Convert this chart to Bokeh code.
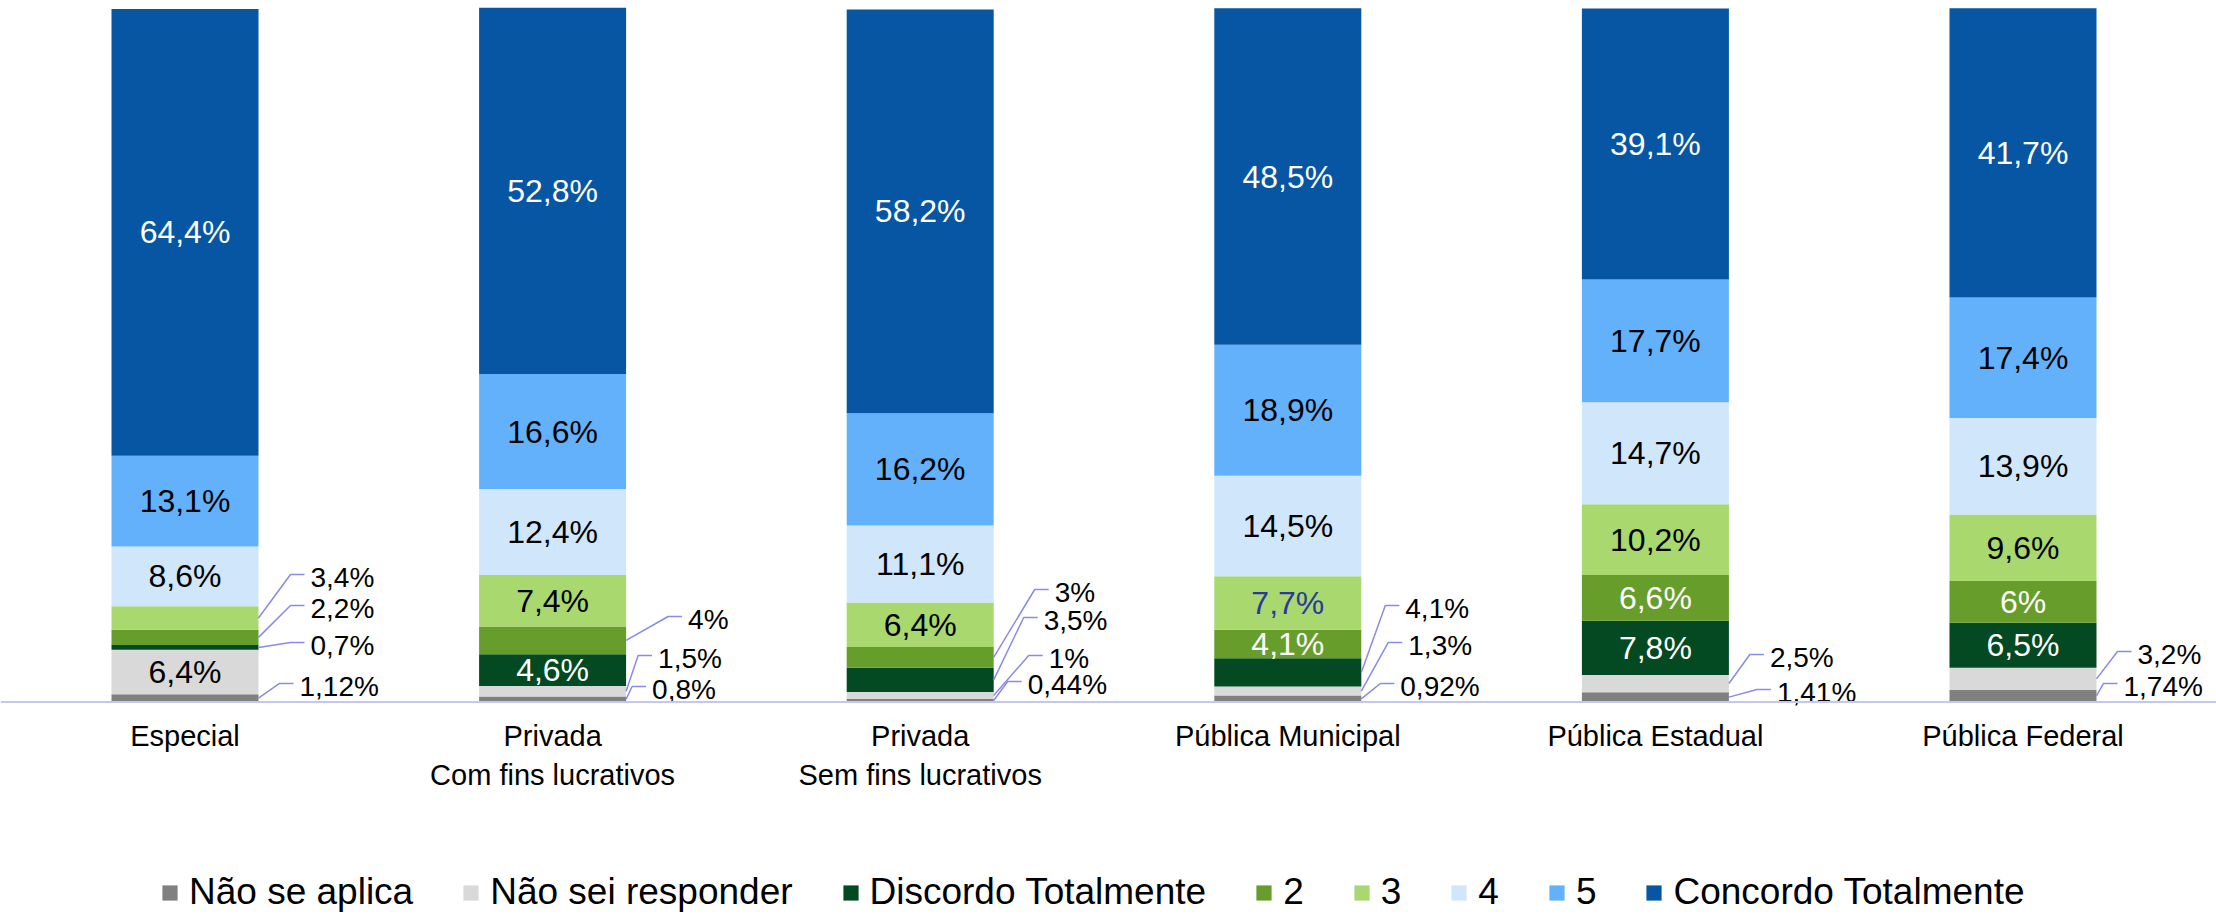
from bokeh.plotting import figure
from bokeh.models import ColumnDataSource, Range1d, Span, Legend, LegendItem
from bokeh.embed import file_html
from bokeh.resources import INLINE
from bokeh.core.properties import value

# ---------------- data ----------------
cat_line1 = ["Especial", "Privada", "Privada", "Pública Municipal", "Pública Estadual", "Pública Federal"]
cat_line2 = ["", "Com fins lucrativos", "Sem fins lucrativos", "", "", ""]

series = ["Não se aplica", "Não sei responder", "Discordo Totalmente", "2", "3", "4", "5",
          "Concordo Totalmente"]

nao_se_aplica = [1.12, 0.8, 0.44, 0.92, 1.41, 1.74]
nao_sei       = [6.4, 1.5, 1.0, 1.3, 2.5, 3.2]
discordo      = [0.7, 4.6, 3.5, 4.1, 7.8, 6.5]
nivel2        = [2.2, 4.0, 3.0, 4.1, 6.6, 6.0]
nivel3        = [3.4, 7.4, 6.4, 7.7, 10.2, 9.6]
nivel4        = [8.6, 12.4, 11.1, 14.5, 14.7, 13.9]
nivel5        = [13.1, 16.6, 16.2, 18.9, 17.7, 17.4]
concordo      = [64.4, 52.8, 58.2, 48.5, 39.1, 41.7]

values = [nao_se_aplica, nao_sei, discordo, nivel2, nivel3, nivel4, nivel5, concordo]

# ---------------- styles / layout ----------------
colors = ["#808080", "#d9d9d9", "#034921", "#679d2a", "#a9d86e", "#d0e6fb", "#63b1fb", "#0656a3"]
label_colors = ["#000000", "#000000", "#ffffff", "#ffffff", "#000000", "#000000", "#000000", "#ffffff"]
FONT = "Liberation Sans"

# series labelled outside with a leader line: (category, series, dx px from bar edge, label y in %)
callouts = [
    (0, 4, 52, 17.95), (0, 3, 52, 13.48), (0, 2, 52, 8.15), (0, 0, 41, 2.24),
    (1, 3, 62, 11.90), (1, 1, 32, 6.27), (1, 0, 26, 1.80),
    (2, 3, 61, 15.79), (2, 2, 50, 11.75), (2, 1, 55, 6.27), (2, 0, 34, 2.52),
    (3, 2, 44, 13.48), (3, 1, 47, 8.15), (3, 0, 39, 2.24),
    (4, 1, 41, 6.42), (4, 0, 48, 1.37),
    (5, 1, 41, 6.85), (5, 0, 27, 2.24),
]
special_color = {(3, 4): "#2b3a9a"}

W, H = 2216, 916
PX_X = 367.6           # pixels per category step
PX_Y = 6.935           # pixels per percentage point
X0 = -184.5 / PX_X
BAR_W = 147 / PX_X
BASE_PX = 701.5        # vertical pixel of the 0 % line
Y1 = BASE_PX / PX_Y
Y0 = Y1 - H / PX_Y

def fmt(v):
    return ("%g" % v).replace(".", ",") + "%"

xs = list(range(len(cat_line1)))
src = {"x": xs}
for s, vals in zip(series, values):
    src[s] = vals
source = ColumnDataSource(src)

p = figure(width=W, height=H, output_backend="svg", toolbar_location=None,
           x_range=Range1d(X0, X0 + W / PX_X), y_range=Range1d(Y0, Y1),
           x_axis_location=None, y_axis_location=None, min_border=0)
p.min_border_left = p.min_border_right = p.min_border_top = p.min_border_bottom = 0
p.grid.visible = False
p.outline_line_color = None
p.background_fill_color = "white"

renderers = p.vbar_stack(series, x="x", width=BAR_W, color=colors, line_color=None, source=source)

# baseline
p.add_layout(Span(location=0, dimension="width", line_color="#c6c6f3", line_width=2))

# segment geometry
bottoms = []
for i in xs:
    acc = 0.0
    row = []
    for j in range(len(series)):
        row.append(acc)
        acc += values[j][i]
    bottoms.append(row)

callout_keys = {(c, s) for c, s, _, _ in callouts}

# inline labels
lx, ly, lt, lc = [], [], [], []
for i in xs:
    for j in range(len(series)):
        if (i, j) in callout_keys:
            continue
        v = values[j][i]
        lx.append(i)
        ly.append(bottoms[i][j] + v / 2)
        lt.append(fmt(v))
        lc.append(special_color.get((i, j), label_colors[j]))
p.text(x=lx, y=ly, text=lt, text_color=lc, text_align="center", text_baseline="middle",
       text_font=value(FONT), text_font_size="32px")

# callout labels and leader lines
cx, cy, ct = [], [], []
mx, my = [], []
for i, j, dx, yl in callouts:
    v = values[j][i]
    x_edge = i + BAR_W / 2
    y_mid = bottoms[i][j] + v / 2
    x_lab = x_edge + dx / PX_X
    x_elb = x_lab - 20 / PX_X
    x_end = x_lab - 6 / PX_X
    y_elb = yl + 3 / PX_Y
    mx.append([x_edge, x_elb, x_end])
    my.append([y_mid, y_elb, y_elb])
    cx.append(x_lab)
    cy.append(yl)
    ct.append(fmt(v))
p.multi_line(xs=mx, ys=my, line_color="#8a8ae8", line_width=1.5)
p.text(x=cx, y=cy, text=ct, text_color="#000000", text_align="left", text_baseline="middle",
       text_font=value(FONT), text_font_size="28px")

# category labels
p.text(x=xs, y=[-33.5 / PX_Y] * len(xs), text=cat_line1, text_align="center", text_baseline="middle",
       text_font=value(FONT), text_font_size="29px", text_color="#000000")
p.text(x=xs, y=[-73.0 / PX_Y] * len(xs), text=cat_line2, text_align="center", text_baseline="middle",
       text_font=value(FONT), text_font_size="29px", text_color="#000000")

legend = Legend(items=[LegendItem(label=s, renderers=[r]) for s, r in zip(series, renderers)],
                orientation="horizontal", location=(160, 3), padding=0, margin=0, spacing=48,
                label_standoff=10, glyph_width=19, glyph_height=19,
                label_text_font=FONT, label_text_font_size="37px", label_text_color="#000000",
                border_line_color=None, background_fill_alpha=0)
p.add_layout(legend)

open("out.html", "w").write(file_html(p, INLINE))
